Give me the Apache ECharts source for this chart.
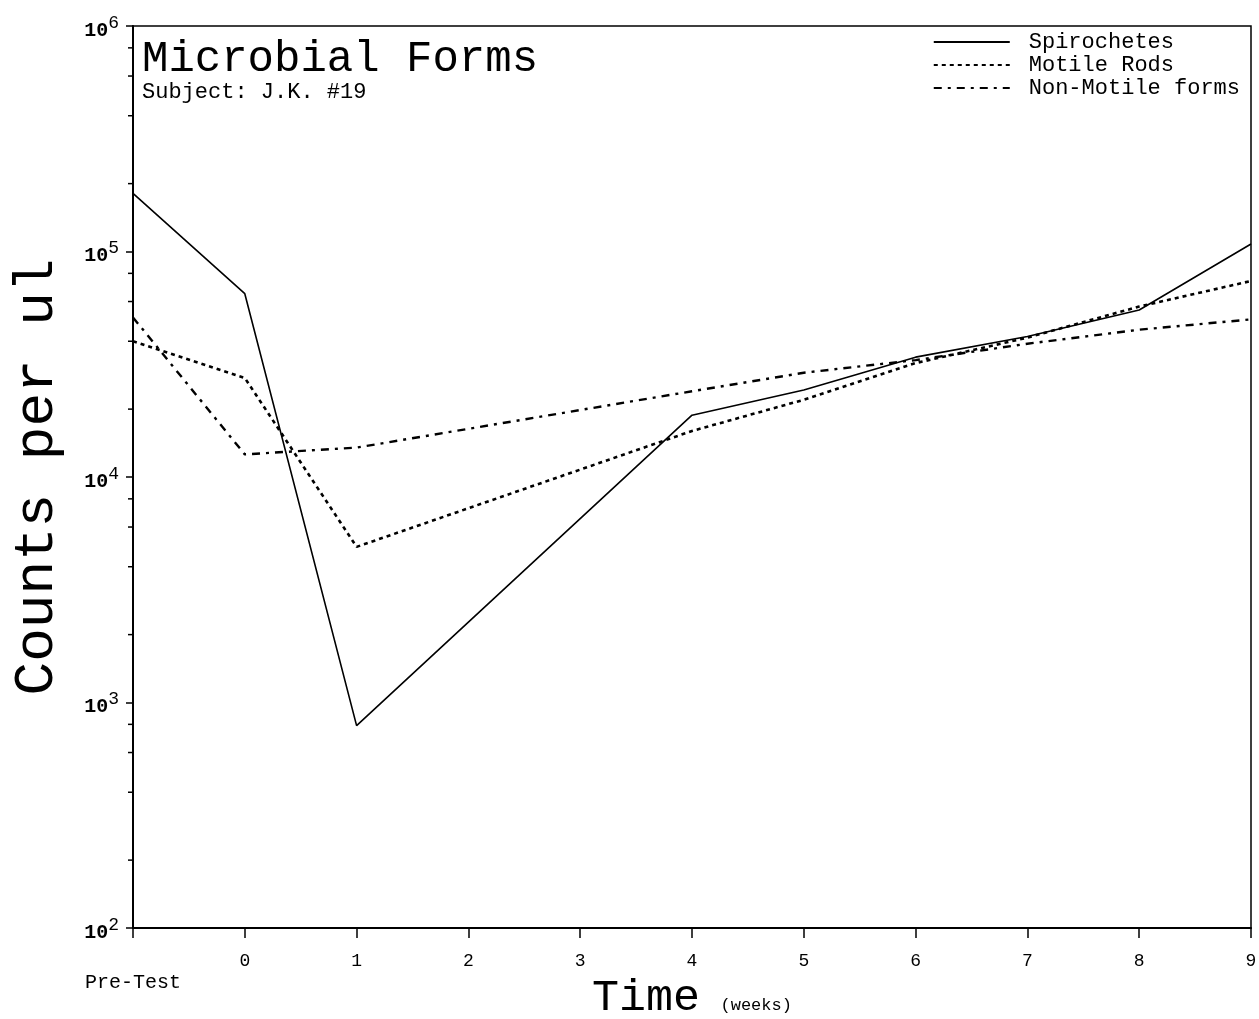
<!DOCTYPE html>
<html>
<head>
<meta charset="utf-8">
<title>Microbial Forms</title>
<script src="https://cdn.jsdelivr.net/npm/echarts@6/dist/echarts.min.js"></script>
<style>
  html, body { margin: 0; padding: 0; background: #fff; }
  #chart { width: 1259px; height: 1019px; }
</style>
</head>
<body>
<div id="chart"></div>
<script>
// weeks, -1 is the pre-test sample (no samples at weeks 2 and 3)
const weeks = [-1, 0, 1, 4, 5, 6, 7, 8, 9]
const spirochetes = [181000, 65000, 790, 18800, 24300, 34000, 42000, 55000, 108000]
const motileRods = [40000, 27500, 4900, 16000, 22000, 32000, 41500, 57000, 74000]
const nonMotile = [51000, 12600, 13500, 24000, 29000, 33000, 39000, 45000, 50000]
const minorTicks = [
  200, 400, 600, 800,
  2000, 4000, 6000, 8000,
  20000, 40000, 60000, 80000,
  200000, 400000, 600000, 800000
]

const FONT = '"Liberation Mono", "DejaVu Sans Mono", monospace'

function pairs (values) {
  return weeks.map((w, i) => [w, values[i]])
}

const chart = echarts.init(document.getElementById('chart'))

const option = {
  backgroundColor: '#fff',
  animation: false,
  title: {
    text: 'Microbial Forms',
    subtext: 'Subject: J.K. #19',
    left: 142,
    top: 37,
    itemGap: 0,
    padding: 0,
    textStyle: {
      fontFamily: FONT,
      fontSize: 44,
      fontWeight: 'normal',
      color: '#000'
    },
    subtextStyle: {
      fontFamily: FONT,
      fontSize: 22,
      color: '#000'
    }
  },
  legend: {
    orient: 'vertical',
    right: 14,
    top: 26,
    itemWidth: 76,
    itemHeight: 10,
    itemGap: 1,
    data: ['Spirochetes', 'Motile Rods', 'Non-Motile forms'],
    itemStyle: { opacity: 0 },
    textStyle: {
      fontFamily: FONT,
      fontSize: 22,
      lineHeight: 22,
      color: '#000',
      padding: [0, 0, 0, 14]
    }
  },
  grid: {
    left: 133,
    right: 8,
    top: 26,
    bottom: 91,
    show: true,
    borderColor: '#000',
    borderWidth: 1.5,
    outerBoundsMode: 'none',
    containLabel: false
  },
  xAxis: {
    type: 'value',
    min: -1,
    max: 9,
    interval: 1,
    name: '{t|Time}{w|  (weeks)}',
    nameLocation: 'middle',
    nameGap: 48,
    nameMoveOverlap: false,
    nameTextStyle: {
      color: '#000',
      rich: {
        t: { fontFamily: FONT, fontSize: 45, color: '#000' },
        w: { fontFamily: FONT, fontSize: 17, color: '#000', padding: [14, 0, 0, 0] }
      }
    },
    axisLine: { onZero: false, lineStyle: { color: '#000', width: 2 } },
    axisTick: { length: 10, lineStyle: { color: '#000', width: 1.5 } },
    splitLine: { show: false },
    axisLabel: {
      margin: 24,
      color: '#000',
      fontFamily: FONT,
      fontSize: 18,
      formatter: function (v) {
        if (v === -1) return '{pre|Pre-Test}'
        return String(v)
      },
      rich: {
        pre: { fontFamily: FONT, fontSize: 20, color: '#000', padding: [21, 0, 0, 0] }
      }
    }
  },
  yAxis: {
    type: 'log',
    logBase: 10,
    min: 100,
    max: 1000000,
    interval: 1,
    name: 'Counts per ul',
    nameLocation: 'middle',
    nameGap: 68,
    nameRotate: 90,
    nameMoveOverlap: false,
    nameTextStyle: {
      fontFamily: FONT,
      fontSize: 56,
      color: '#000'
    },
    axisLine: { onZero: false, lineStyle: { color: '#000', width: 2 } },
    axisTick: { length: 7, lineStyle: { color: '#000', width: 1.5 } },
    splitLine: { show: false },
    axisLabel: {
      margin: 14,
      color: '#000',
      formatter: function (v) {
        const e = Math.round(Math.log10(v))
        return '{b|10}{s|' + e + '}'
      },
      rich: {
        b: { fontFamily: FONT, fontSize: 20, fontWeight: 'bold', color: '#000', padding: [9, 0, 0, 0] },
        s: { fontFamily: FONT, fontSize: 18, color: '#000', padding: [0, 0, 6, 0] }
      }
    }
  },
  series: [
    {
      name: 'Spirochetes',
      type: 'line',
      data: pairs(spirochetes),
      symbol: 'none',
      lineStyle: { color: '#000', width: 1.6, type: 'solid' },
      itemStyle: { color: '#000' }
    },
    {
      name: 'Motile Rods',
      type: 'line',
      data: pairs(motileRods),
      symbol: 'none',
      lineStyle: { color: '#000', width: 2.6, type: [4, 4] },
      itemStyle: { color: '#000' }
    },
    {
      name: 'Non-Motile forms',
      type: 'line',
      data: pairs(nonMotile),
      symbol: 'none',
      lineStyle: { color: '#000', width: 2.4, type: [8, 6, 3, 6] },
      itemStyle: { color: '#000' }
    },
    {
      // minor ticks at 2,4,6,8 x 10^n on the left axis
      name: 'minor',
      type: 'custom',
      silent: true,
      clip: false,
      data: minorTicks.map(v => [-1, v]),
      renderItem: function (params, api) {
        const p = api.coord([api.value(0), api.value(1)])
        return {
          type: 'line',
          shape: { x1: p[0] - 5, y1: p[1], x2: p[0], y2: p[1] },
          style: { stroke: '#000', lineWidth: 1.5 }
        }
      }
    }
  ]
}

chart.setOption(option)
</script>
</body>
</html>
